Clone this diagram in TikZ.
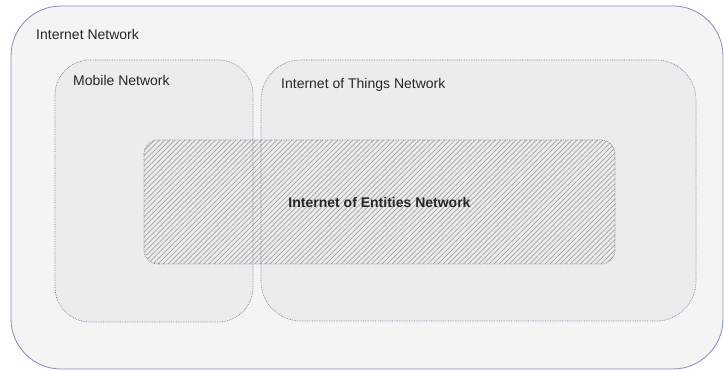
\documentclass[tikz,border=0pt]{standalone}
\usepackage{fontspec}
\setmainfont{Liberation Sans}
\usetikzlibrary{patterns.meta}
\definecolor{outerfill}{HTML}{F4F4F4}
\definecolor{outerline}{HTML}{7F90B3}
\definecolor{innerfill}{HTML}{ECECEC}
\definecolor{innerline}{HTML}{6F82A8}
\definecolor{hatchcol}{HTML}{A0A0A0}
\tikzset{
  outerbox/.style={draw=outerline, fill=outerfill, line width=0.8pt, rounded corners=50pt},
  innerborder/.style={draw=innerline, line width=0.7pt, densely dotted},
  lbl/.style={anchor=base west, inner sep=0pt, font=\fontsize{14}{16}\selectfont, text=black!85},
}
\begin{document}
\begin{tikzpicture}[x=1pt,y=-1pt]
\useasboundingbox (0,0) rectangle (724,371);
% outer network
\draw[outerbox] (11,6) rectangle (723,369);
% fills of inner networks
\fill[innerfill, rounded corners=35pt] (55,60) rectangle (253,322);
\fill[innerfill, rounded corners=40pt] (261,60) rectangle (696,321);
% entities network (hatched)
\fill[innerfill, rounded corners=14pt] (144,140) rectangle (615,264);
\fill[pattern={Lines[angle=45,distance=3.6pt,line width=0.7pt]}, pattern color=hatchcol, rounded corners=14pt] (144,140) rectangle (615,264);
% borders
\draw[innerborder, rounded corners=35pt] (55,60) rectangle (253,322);
\draw[innerborder, rounded corners=40pt] (261,60) rectangle (696,321);
\draw[innerborder, rounded corners=14pt] (144,140) rectangle (615,264);
% labels
\node[lbl] (tInternet) at (36,40) {Internet Network};
\node[lbl] (tMobile) at (73,86) {Mobile Network};
\node[lbl] (tIoT) at (281,89) {Internet of Things Network};
\node[lbl, font=\fontsize{14}{16}\selectfont\bfseries, anchor=base] (tIoE) at (379.5,208) {Internet of Entities Network};
\end{tikzpicture}
\end{document}
